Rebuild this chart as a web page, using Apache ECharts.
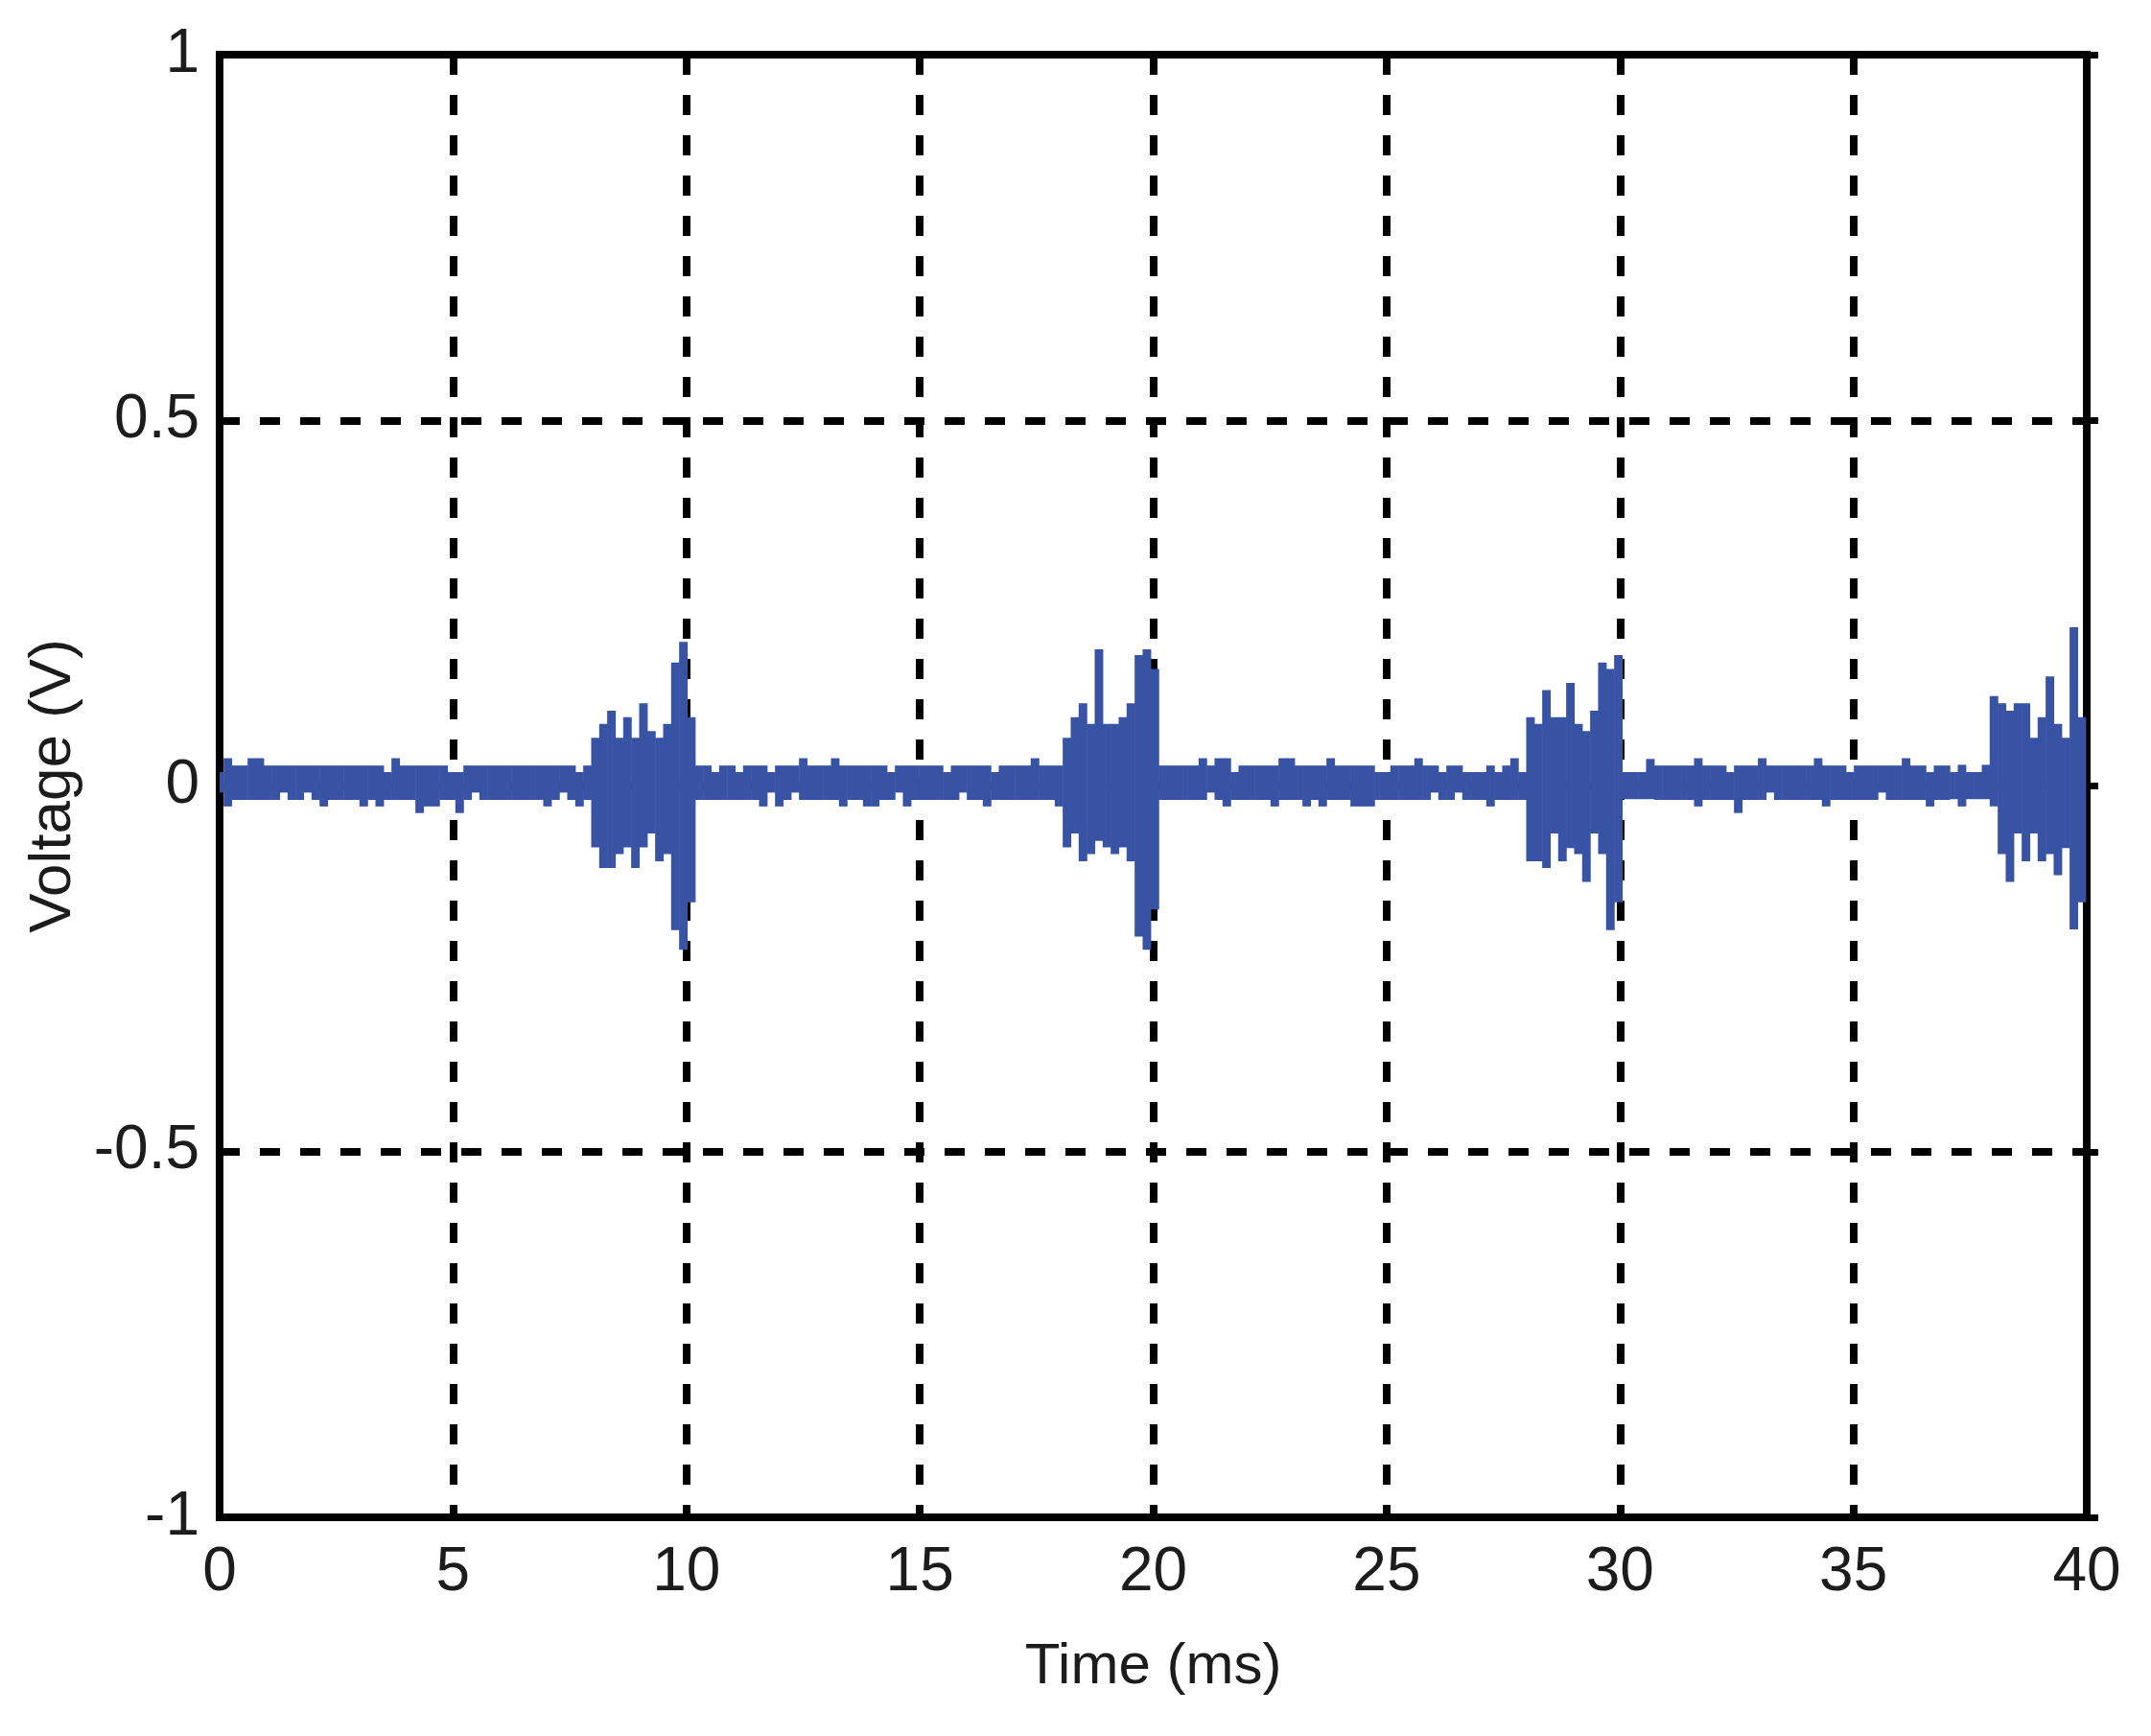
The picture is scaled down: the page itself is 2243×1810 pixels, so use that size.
<!DOCTYPE html>
<html>
<head>
<meta charset="utf-8">
<script src="https://cdn.jsdelivr.net/npm/echarts@6/dist/echarts.min.js"></script>
<style>
  html, body { margin: 0; padding: 0; background: #fff; }
  #chart { width: 2243px; height: 1810px; }
</style>
</head>
<body>
<div id="chart"></div>
<script>
// sample period of the trace, ms
var sampleStep = 0.1712;

var xTickLabels = ["0", "5", "10", "15", "20", "25", "30", "35", "40"];
var yTickLabels = ["-1", "-0.5", "0", "0.5", "1"];

// upper edge of the trace per sample (V)
var upper = [
  // 0 - 8 ms
  0.019, 0.038, 0.028, 0.028, 0.038, 0.038, 0.028, 0.028, 0.028, 0.028,
  0.028, 0.028, 0.028, 0.028, 0.028, 0.028, 0.028, 0.028, 0.028, 0.028,
  0.028, 0.019, 0.038, 0.028, 0.028, 0.028, 0.028, 0.028, 0.028, 0.019,
  0.019, 0.028, 0.028, 0.028, 0.028, 0.028, 0.028, 0.028, 0.028, 0.028,
  0.028, 0.028, 0.028, 0.028, 0.028, 0.019, 0.028,
  // burst near 10 ms
  0.066, 0.085, 0.103, 0.066, 0.094, 0.066, 0.113, 0.075, 0.066, 0.085, 0.169, 0.197, 0.094,
  // 10 - 18 ms
  0.028, 0.028, 0.019, 0.028, 0.028, 0.019, 0.028, 0.028, 0.028, 0.019,
  0.028, 0.028, 0.028, 0.038, 0.028, 0.028, 0.028, 0.038, 0.028, 0.028,
  0.028, 0.028, 0.028, 0.028, 0.019, 0.028, 0.028, 0.028, 0.028, 0.028,
  0.028, 0.019, 0.028, 0.028, 0.028, 0.028, 0.028, 0.019, 0.028, 0.028,
  0.028, 0.028, 0.038, 0.028, 0.028, 0.028,
  // burst near 20 ms
  0.066, 0.094, 0.113, 0.085, 0.187, 0.085, 0.085, 0.094, 0.113, 0.179, 0.187, 0.160,
  // 20 - 28 ms
  0.028, 0.028, 0.028, 0.028, 0.028, 0.038, 0.028, 0.038, 0.038, 0.019,
  0.028, 0.028, 0.028, 0.028, 0.028, 0.038, 0.038, 0.028, 0.028, 0.028,
  0.028, 0.038, 0.028, 0.028, 0.028, 0.028, 0.028, 0.019, 0.019, 0.028,
  0.028, 0.028, 0.038, 0.028, 0.028, 0.019, 0.028, 0.028, 0.019, 0.019,
  0.019, 0.028, 0.019, 0.028, 0.038, 0.019,
  // burst near 30 ms
  0.094, 0.085, 0.131, 0.094, 0.094, 0.141, 0.085, 0.075, 0.103, 0.169, 0.160, 0.179,
  // 30 - 38 ms
  0.019, 0.019, 0.019, 0.037, 0.028, 0.028, 0.028, 0.028, 0.028, 0.038,
  0.028, 0.028, 0.028, 0.019, 0.028, 0.028, 0.028, 0.038, 0.028, 0.028,
  0.028, 0.028, 0.028, 0.028, 0.038, 0.028, 0.028, 0.028, 0.019, 0.028,
  0.028, 0.028, 0.028, 0.028, 0.028, 0.038, 0.028, 0.028, 0.019, 0.028,
  0.028, 0.019, 0.029, 0.019, 0.019, 0.029,
  // burst near 40 ms
  0.123, 0.113, 0.103, 0.113, 0.113, 0.066, 0.094, 0.150, 0.085, 0.066, 0.217, 0.094
];

// lower edge of the trace per sample (V)
var lower = [
  -0.009, -0.028, -0.019, -0.019, -0.019, -0.019, -0.019, -0.019, -0.009, -0.019,
  -0.019, -0.009, -0.019, -0.028, -0.019, -0.019, -0.019, -0.019, -0.028, -0.019,
  -0.028, -0.019, -0.019, -0.019, -0.019, -0.037, -0.028, -0.028, -0.019, -0.019,
  -0.037, -0.019, -0.009, -0.019, -0.019, -0.019, -0.019, -0.019, -0.019, -0.019,
  -0.019, -0.028, -0.019, -0.009, -0.019, -0.028, -0.019,
  -0.084, -0.112, -0.112, -0.093, -0.084, -0.112, -0.084, -0.065, -0.103, -0.093, -0.197, -0.224, -0.159,
  -0.019, -0.019, -0.019, -0.019, -0.019, -0.019, -0.019, -0.019, -0.028, -0.009,
  -0.028, -0.019, -0.009, -0.019, -0.019, -0.019, -0.019, -0.019, -0.028, -0.019,
  -0.019, -0.028, -0.028, -0.019, -0.019, -0.009, -0.028, -0.019, -0.019, -0.019,
  -0.019, -0.019, -0.019, -0.009, -0.019, -0.019, -0.028, -0.019, -0.019, -0.019,
  -0.019, -0.019, -0.019, -0.019, -0.019, -0.028,
  -0.084, -0.065, -0.103, -0.093, -0.075, -0.084, -0.093, -0.084, -0.103, -0.206, -0.224, -0.169,
  -0.019, -0.019, -0.019, -0.019, -0.019, -0.019, -0.009, -0.019, -0.028, -0.019,
  -0.019, -0.019, -0.019, -0.019, -0.028, -0.019, -0.019, -0.019, -0.028, -0.019,
  -0.028, -0.019, -0.019, -0.019, -0.028, -0.028, -0.028, -0.019, -0.019, -0.019,
  -0.019, -0.019, -0.019, -0.019, -0.009, -0.019, -0.019, -0.009, -0.019, -0.019,
  -0.019, -0.028, -0.019, -0.019, -0.019, -0.019,
  -0.103, -0.103, -0.112, -0.065, -0.103, -0.085, -0.093, -0.131, -0.065, -0.093, -0.197, -0.159,
  -0.018, -0.018, -0.018, -0.018, -0.019, -0.019, -0.019, -0.019, -0.019, -0.028,
  -0.019, -0.019, -0.019, -0.019, -0.037, -0.019, -0.019, -0.019, -0.009, -0.019,
  -0.019, -0.019, -0.019, -0.019, -0.019, -0.028, -0.019, -0.019, -0.019, -0.019,
  -0.019, -0.019, -0.009, -0.019, -0.019, -0.019, -0.019, -0.019, -0.028, -0.019,
  -0.019, -0.018, -0.028, -0.018, -0.018, -0.018,
  -0.028, -0.093, -0.131, -0.065, -0.103, -0.065, -0.103, -0.093, -0.122, -0.085, -0.196, -0.159
];

var chart = echarts.init(document.getElementById("chart"));

var font = "'Liberation Sans', Arial, Helvetica, sans-serif";
var textColor = "#1c1c1c";
var traceColor = "#3953a4";

// one row per sample: [time, upper, lower]
var samples = upper.map(function (v, i) {
  return [i * sampleStep, v, lower[i]];
});

var gridDash = {
  color: "#000",
  width: 8,
  type: [21, 21]
};

chart.setOption({
  animation: false,
  backgroundColor: "#fff",
  grid: {
    left: 229,
    right: 67,
    top: 57,
    bottom: 228,
    show: true,
    borderColor: "#000",
    borderWidth: 8,
    backgroundColor: "transparent"
  },
  xAxis: {
    type: "value",
    min: 0,
    max: 40,
    interval: 5,
    name: "Time (ms)",
    nameLocation: "middle",
    nameGap: 126,
    nameTextStyle: { fontSize: 60, color: textColor, fontFamily: font },
    axisLine: { show: false },
    axisTick: { show: false },
    axisLabel: {
      margin: 26,
      fontSize: 64,
      color: textColor,
      fontFamily: font,
      formatter: function (v) {
        return xTickLabels[Math.round(v / 5)];
      }
    },
    splitLine: { show: true, lineStyle: gridDash }
  },
  yAxis: [
    {
      type: "value",
      min: -1,
      max: 1,
      interval: 0.5,
      name: "Voltage (V)",
      nameLocation: "middle",
      nameGap: 104,
      nameTextStyle: { fontSize: 62, color: textColor, fontFamily: font },
      axisLine: { show: false },
      axisTick: { show: false },
      axisLabel: {
        margin: 21,
        fontSize: 64,
        color: textColor,
        fontFamily: font,
        formatter: function (v) {
          return yTickLabels[Math.round((v + 1) / 0.5)];
        }
      },
      splitLine: { show: true, lineStyle: gridDash }
    },
    {
      type: "value",
      position: "right",
      min: -1,
      max: 1,
      interval: 0.5,
      axisLine: { show: false },
      axisTick: { show: true, inside: false, length: 12, lineStyle: { color: "#000", width: 7 } },
      axisLabel: { show: false },
      splitLine: { show: false }
    }
  ],
  series: [
    {
      type: "custom",
      clip: true,
      z: 3,
      data: samples,
      encode: { x: 0, y: [1, 2] },
      renderItem: function (params, api) {
        var t = api.value(0);
        var top = api.coord([t, api.value(1)]);
        var bottom = api.coord([t, api.value(2)]);
        var w = api.size([sampleStep, 0])[0];
        return {
          type: "rect",
          shape: {
            x: top[0] - w / 2,
            y: top[1],
            width: w + 0.6,
            height: bottom[1] - top[1]
          },
          style: { fill: traceColor }
        };
      }
    }
  ]
});
</script>
</body>
</html>
